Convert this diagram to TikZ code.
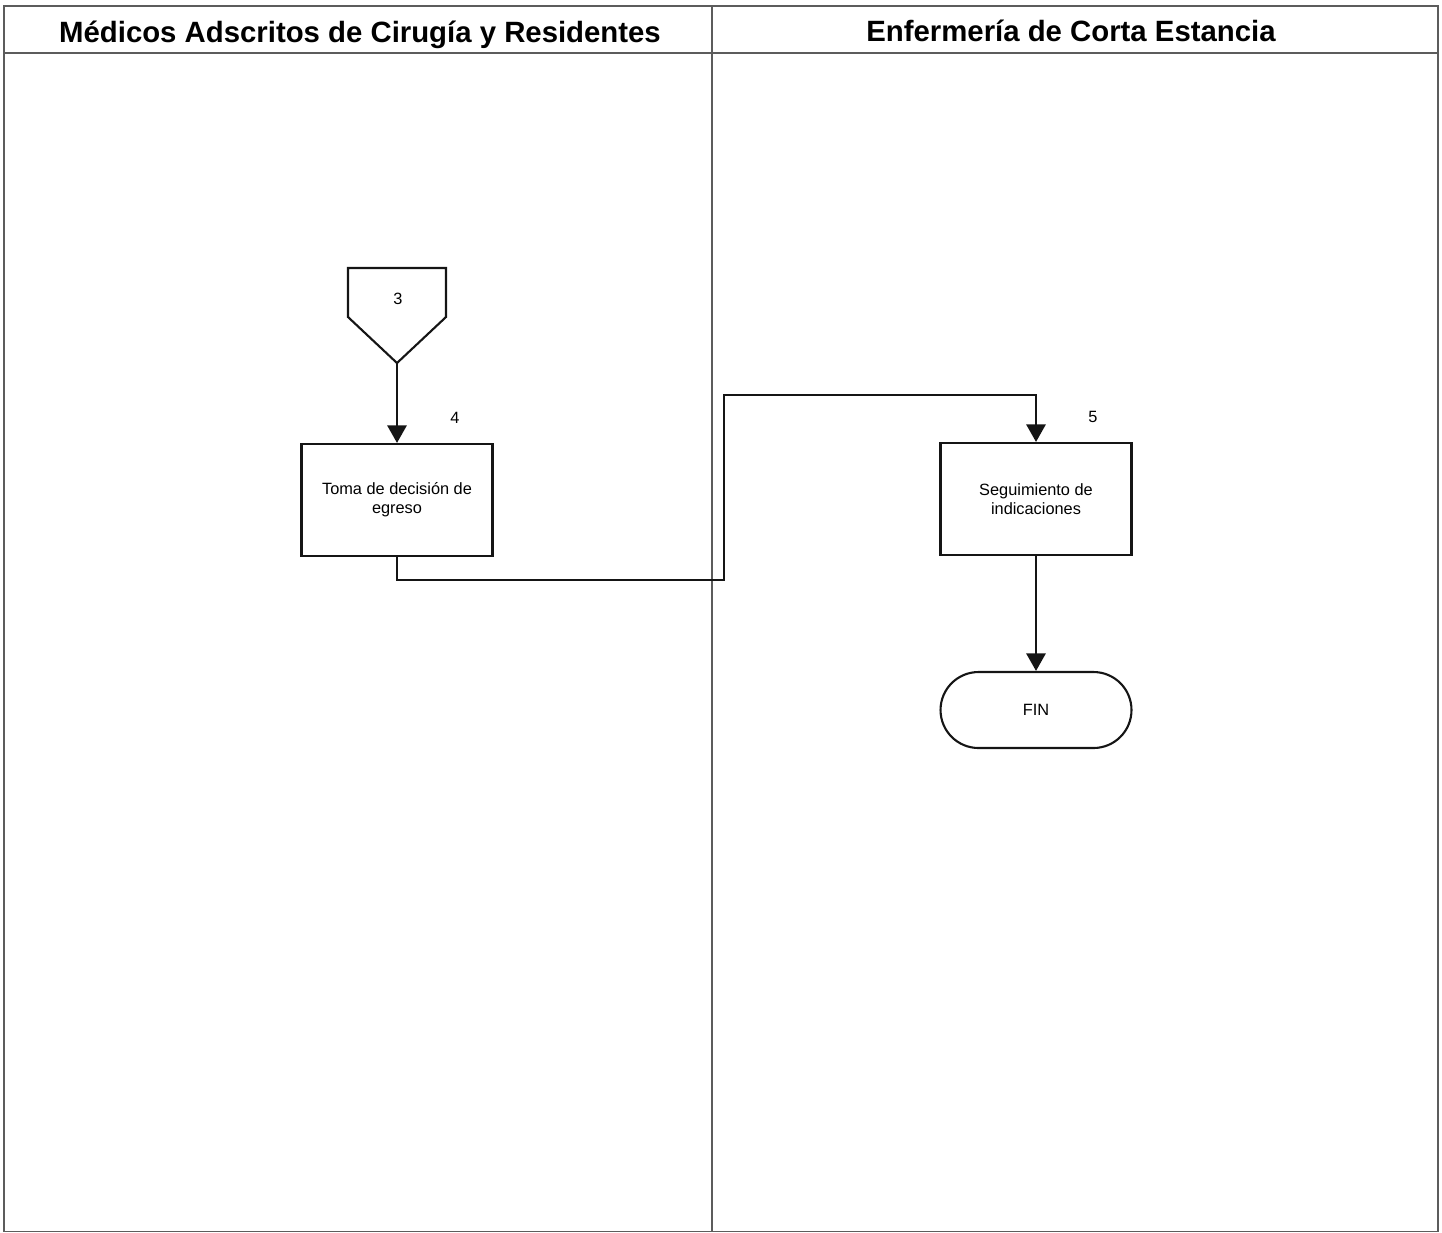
\documentclass[tikz,border=0pt]{standalone}
\usepackage{fontspec}
\setmainfont{Liberation Sans}
\usetikzlibrary{arrows.meta,positioning}
\definecolor{framec}{HTML}{5C5C5C}
\definecolor{inkc}{HTML}{151515}
\tikzset{
  ar/.style={-{Triangle[length=3.5mm,width=3.8mm]},line width=1.5pt,inkc},
  fr/.style={draw=framec,line width=0.6pt},
  proc/.style={rectangle,draw=inkc,line width=1.2pt,minimum width=3.82cm,minimum height=2.24cm,align=center,font=\fontsize{9.3}{10.8}\selectfont},
  term/.style={rectangle,rounded corners=0.76cm,draw=inkc,line width=1.2pt,minimum width=3.82cm,minimum height=1.52cm,font=\fontsize{9.3}{10.8}\selectfont},
  num/.style={inner sep=0pt,font=\fontsize{9.3}{10.8}\selectfont},
  hd/.style={inner sep=0pt,anchor=base,font=\bfseries\fontsize{16.7}{19}\selectfont}
}
\begin{document}
\begin{tikzpicture}[x=0.02cm,y=-0.02cm]
\useasboundingbox (0,0) rectangle (1442,1232);
% lanes
\draw[fr] (4,6) rectangle (1438,1231);
\draw[fr,line width=0.9pt] (4,6) -- (1438,6);
\draw[fr,line width=0.8pt] (4,53) -- (1438,53);
\draw[fr] (712,6) -- (712,1231);
\node[hd] (h1) at (360,42) {Médicos Adscritos de Cirugía y Residentes};
\node[hd] (h2) at (1071,41) {Enfermería de Corta Estancia};
% off-page connector 3
\draw[inkc,line width=1.2pt] (348,268) -- (446,268) -- (446,317) -- (397,363) -- (348,317) -- cycle;
\coordinate (c3tip) at (397,363);
\node[num] (c3) at (398,299) {3};
% steps
\node[proc] (b4) at (397,500) {Toma de decisión de\\egreso};
\node[num] (n4) at (455,418) {4};
\node[proc] (b5) at (1036,499) {Seguimiento de\\indicaciones};
\node[num] (n5) at (1093,417) {5};
\node[term] (fin) at (1036,710) {FIN};
\coordinate (jog) at (724,395);
\draw[ar] (c3tip) -- (b4.north);
\draw[ar] (b4.south) -- ++(0,23) -| (jog) -| (b5.north);
\draw[ar] (b5.south) -- (fin.north);
\end{tikzpicture}
\end{document}
